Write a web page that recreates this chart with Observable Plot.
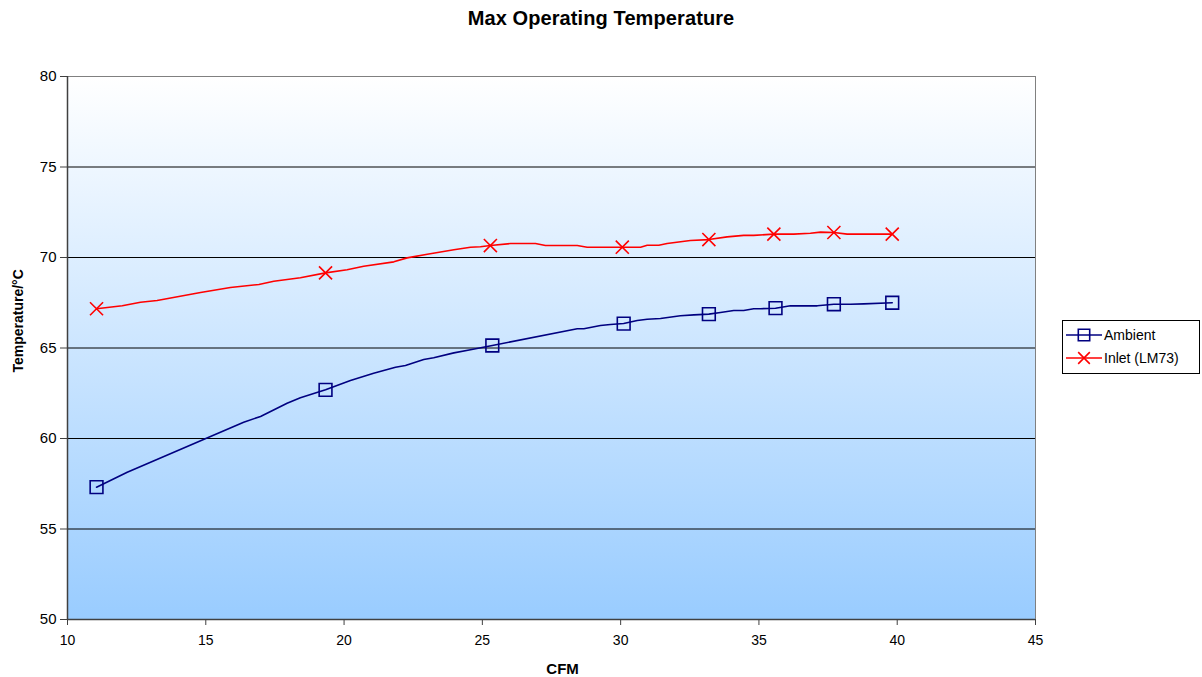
<!DOCTYPE html>
<html>
<head>
<meta charset="utf-8">
<script src="https://cdn.jsdelivr.net/npm/d3@7"></script>
<script src="https://cdn.jsdelivr.net/npm/@observablehq/plot@0.6"></script>
<style>
  html, body { margin: 0; padding: 0; background: #fff; }
  #wrap { position: relative; width: 1202px; height: 677px; font-family: "Liberation Sans", Arial, sans-serif; }
  #title { position: absolute; left: 0; width: 1202px; top: 7px; text-align: center; font-weight: bold; font-size: 20px; letter-spacing: 0.1px; color: #000; }
  #legend { position: absolute; left: 1062px; top: 320px; width: 136px; height: 52px; border: 1px solid #000; background: #fff; font-size: 14px; }
  #legend .row { position: absolute; left: 2px; height: 20px; display: flex; align-items: center; }
  #legend svg { display: block; }
  #chart { position: absolute; left: 0; top: 0; }
</style>
</head>
<body>
<div id="wrap">
  <div id="chart"></div>
  <div id="title">Max Operating Temperature</div>
  <div id="legend"></div>
</div>
<script>
// ---- data ----
const seriesNames = ["Ambient", "Inlet (LM73)"];
const seriesColors = ["#000080", "#FF0000"];

const ambientCFM  = [11.05,12.16,16.37,16.98,17.94,18.42,19.33,20.23,21.07,21.86,22.22,22.88,23.24,23.97,24.57,25.36,28.43,28.67,29.27,29.63,30.11,30.60,30.96,31.44,32.16,32.65,33.19,33.61,34.09,34.45,34.81,35.06,35.60,36.14,37.11,37.71,38.31,38.79,39.82];
const ambientTemp = [57.31,58.14,60.90,61.22,61.95,62.25,62.69,63.20,63.61,63.94,64.03,64.36,64.46,64.73,64.90,65.14,66.06,66.06,66.24,66.30,66.35,66.52,66.59,66.63,66.78,66.83,66.87,66.96,67.07,67.07,67.17,67.17,67.20,67.33,67.33,67.42,67.42,67.44,67.50];

const inletCFM  = [11.05,11.98,12.64,13.24,14.81,15.89,16.92,17.46,18.42,19.33,20.11,20.71,21.80,22.28,23.01,23.97,24.57,24.93,25.29,26.02,26.92,27.28,28.43,28.79,30.06,30.72,30.96,31.38,31.68,32.52,33.19,33.85,34.45,34.81,35.54,36.26,36.86,37.23,37.71,38.19,39.82];
const inletTemp = [67.17,67.33,67.53,67.62,68.07,68.34,68.51,68.69,68.88,69.15,69.32,69.52,69.76,69.98,70.18,70.43,70.57,70.59,70.66,70.77,70.77,70.66,70.66,70.57,70.57,70.57,70.68,70.68,70.77,70.94,70.99,71.14,71.22,71.22,71.29,71.29,71.34,71.40,71.38,71.29,71.29];

// CFM readings where a marker is drawn
const ambientMarkerCFM = [11.05,19.33,25.36,30.11,33.19,35.60,37.71,39.82];
const inletMarkerCFM   = [11.05,19.33,25.29,30.06,33.19,35.54,37.71,39.82];

const xTicks = [10,15,20,25,30,35,40,45];
const yTicks = [50,55,60,65,70,75,80];
const yGrid  = [55,60,65,70,75];

// ---- tables ----
const ambient = ambientCFM.map((x,i)=>({x, y: ambientTemp[i]}));
const inlet = inletCFM.map((x,i)=>({x, y: inletTemp[i]}));
const ambientMarks = ambient.filter(d => ambientMarkerCFM.includes(d.x));
const inletMarks = inlet.filter(d => inletMarkerCFM.includes(d.x));

const defs = () => {
  const ns = "http://www.w3.org/2000/svg";
  const g = document.createElementNS(ns, "defs");
  g.innerHTML = `<linearGradient id="bg" x1="0" y1="0" x2="0" y2="1">
     <stop offset="0" stop-color="#FFFFFF"/>
     <stop offset="1" stop-color="#99CCFF"/>
   </linearGradient>`;
  return g;
};

const chart = Plot.plot({
  width: 1202,
  height: 677,
  marginLeft: 67,
  marginRight: 167,
  marginTop: 76,
  marginBottom: 58,
  style: { fontFamily: "'Liberation Sans', Arial, sans-serif", fontSize: "14px", background: "transparent", color: "#000" },
  x: { domain: [10, 45] },
  y: { domain: [50, 80] },
  marks: [
    defs,
    Plot.frame({ fill: "url(#bg)", stroke: "#808080", strokeWidth: 1 }),
    Plot.gridY(yGrid, { stroke: "#000", strokeOpacity: 1, strokeWidth: 1 }),
    Plot.ruleX([10], { stroke: "#404040", strokeWidth: 1.5 }),
    Plot.ruleY([50], { stroke: "#404040", strokeWidth: 1.5 }),
    Plot.axisX(xTicks, { tickSize: 6, tickPadding: 10, stroke: "#404040", label: null, fontSize: 14 }),
    Plot.axisY(yTicks, { tickSize: 7, tickPadding: 4, stroke: "#404040", label: null, fontSize: 15 }),
    Plot.text(["CFM"], { x: 27.9, frameAnchor: "bottom", dy: 54, fontWeight: "bold", fontSize: 15 }),
    Plot.text(["Temperature/°C"], { y: 66.5, frameAnchor: "left", dx: -49, rotate: -90, textAnchor: "middle", fontWeight: "bold", fontSize: 14 }),
    Plot.line(ambient, { x: "x", y: "y", stroke: seriesColors[0], strokeWidth: 1.6 }),
    Plot.line(inlet, { x: "x", y: "y", stroke: seriesColors[1], strokeWidth: 1.6 }),
    Plot.dot(ambientMarks, { x: "x", y: "y", symbol: "square", r: 7.2, stroke: seriesColors[0], fill: "none", strokeWidth: 1.6 }),
    Plot.dot(inletMarks, { x: "x", y: "y", symbol: "times", r: 6, stroke: seriesColors[1], fill: "none", strokeWidth: 1.6 })
  ]
});
document.getElementById("chart").appendChild(chart);

// legend
const leg = document.getElementById("legend");
seriesNames.forEach((name, i) => {
  const row = document.createElement("div");
  row.className = "row";
  row.style.top = (4 + i * 23) + "px";
  const sym = d3.symbol(i === 0 ? d3.symbolSquare : d3.symbolTimes, i === 0 ? 130 : 90)();
  row.innerHTML = `<svg width="38" height="20"><line x1="1" x2="37" y1="10" y2="10" stroke="${seriesColors[i]}" stroke-width="1.6"/>
    <path d="${sym}" transform="translate(19,10)" fill="none" stroke="${seriesColors[i]}" stroke-width="1.6"/></svg><span style="margin-left:1px">${name}</span>`;
  leg.appendChild(row);
});
</script>
</body>
</html>
